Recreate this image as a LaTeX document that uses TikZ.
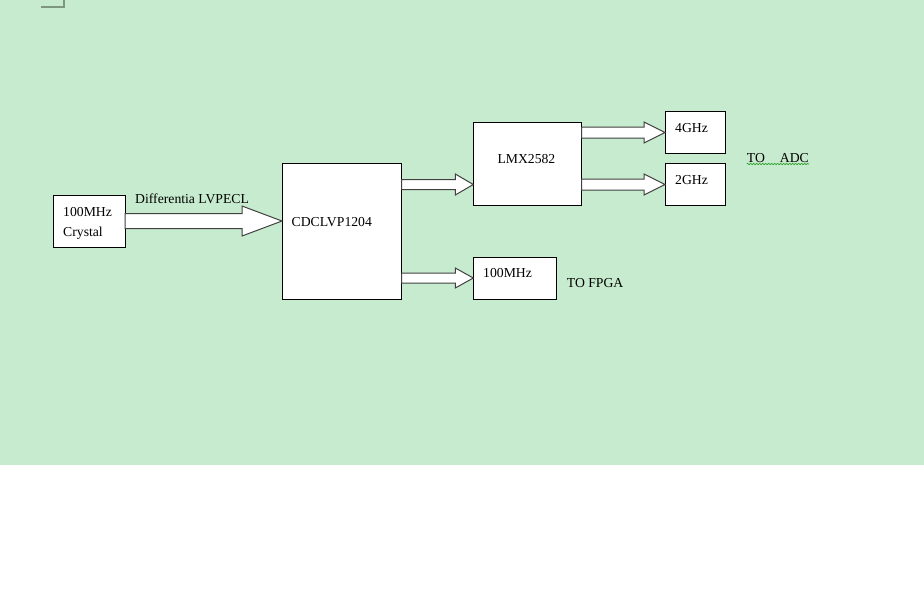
\documentclass[tikz,border=0pt]{standalone}
\usepackage{fontspec}
\setmainfont{Liberation Serif}
\usetikzlibrary{calc,decorations.pathmorphing}
\definecolor{bggreen}{RGB}{199,235,206}
\definecolor{cornergray}{RGB}{125,150,125}
\definecolor{spellgreen}{RGB}{40,160,40}
\newcommand{\fsz}{\fontsize{13.7pt}{16pt}\selectfont}
\tikzset{
  box/.style={draw=black, line width=0.8pt, fill=white, inner sep=0pt, outer sep=0pt, anchor=north west},
  blk/.style={draw=black!75, line width=1pt, fill=white, line join=miter},
  txt/.style={anchor=base west, inner sep=0pt, font=\fsz},
}
% #1 name, #2 x1, #3 y1, #4 x2, #5 y2
\newcommand{\boxnode}[5]{%
  \node[box, minimum width={#4-#2}, minimum height={#5-#3}] (#1) at (#2,#3) {};}
% #1 from node, #2 to node, #3 y, #4 shaft half, #5 head half, #6 head length
\newcommand{\blkarr}[6]{%
  \coordinate (by) at (0,#3);
  \coordinate (bs) at (#1.east |- by);
  \coordinate (bt) at (#2.west |- by);
  \draw[blk] ($(bs)+(0,-#4)$) -- ($(bt)+(-#6,-#4)$) -- ($(bt)+(-#6,-#5)$) -- (bt)
    -- ($(bt)+(-#6,#5)$) -- ($(bt)+(-#6,#4)$) -- ($(bs)+(0,#4)$) -- cycle;}
\begin{document}
\begin{tikzpicture}[x=1pt,y=-1pt]
\useasboundingbox (0,0) rectangle (924,614);
\fill[white] (0,0) rectangle (924,614);
\fill[bggreen] (0,0) rectangle (924,465);
% corner mark
\draw[cornergray, line width=1.2pt] (41,7) -- (64,7) -- (64,0);

% boxes
\boxnode{crystal}{53}{195}{125}{247}
\boxnode{cdc}{282}{163}{401.5}{299}
\boxnode{lmx}{473.3}{122.3}{581.5}{205}
\boxnode{ghz4}{665}{111.7}{725}{153.3}
\boxnode{ghz2}{665}{163.3}{725}{205}
\boxnode{mhz}{473.3}{257.3}{556.7}{299}

% block arrows
\blkarr{crystal}{cdc}{221}{7.5}{15}{40}
\blkarr{cdc}{lmx}{184.5}{5}{10.5}{18}
\blkarr{lmx}{ghz4}{132.5}{5.5}{10.5}{21}
\blkarr{lmx}{ghz2}{184.5}{5.5}{10.5}{21}
\blkarr{cdc}{mhz}{278}{5}{10}{18}

% texts
\node[txt] (t1) at (63,216) {100MHz};
\node[txt] (t2) at (63,236) {Crystal};
\node[txt] (t3) at (135,203) {Differentia LVPECL};
\node[txt] (t4) at (291.5,226) {CDCLVP1204};
\node[txt] (t5) at (497.3,163) {LMX2582};
\node[txt] (t6) at (675,132.7) {4GHz};
\node[txt] (t7) at (675,184.5) {2GHz};
\node[txt] (t8) at (483,277) {100MHz};
\node[txt] (t9) at (566.7,287.5) {TO FPGA};
\node[txt] (t10) at (746.7,162.7) {TO\hspace{15pt}ADC};
\draw[spellgreen, line width=0.6pt, decorate,
      decoration={snake, amplitude=0.7pt, segment length=3pt}]
  (t10.base west) ++(0,1.3) coordinate (w1) -- (w1 -| t10.base east);
\end{tikzpicture}
\end{document}
